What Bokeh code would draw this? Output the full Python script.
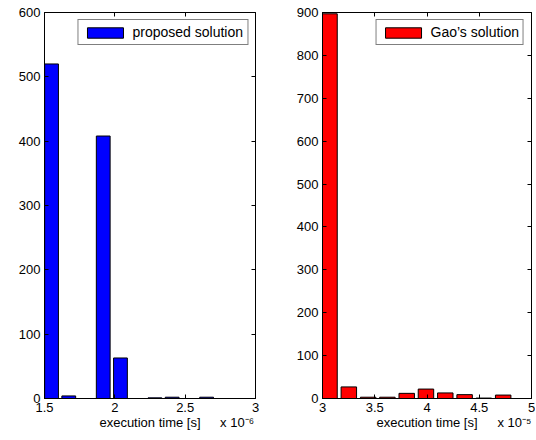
from bokeh.plotting import figure
from bokeh.layouts import row
from bokeh.models import (FixedTicker, LinearAxis, Range1d, Legend,
                          LegendItem, NumeralTickFormatter, CustomJSTickFormatter)
from bokeh.embed import file_html
from bokeh.resources import INLINE

FONT = "Liberation Sans"

# ---- data (x in units of 1e-6 s for proposed, 1e-5 s for Gao) ----
proposed_centers = [1.55, 1.6725, 1.795, 1.9175, 2.04, 2.1625, 2.285, 2.4075, 2.53, 2.6525]
proposed_counts = [520, 4, 0, 408, 63, 0, 1, 2, 0, 2]
proposed_bar_width = 0.098
proposed_xticks = [1.5, 2, 2.5, 3]
proposed_yticks = [0, 100, 200, 300, 400, 500, 600]
proposed_multiplier = "x 10\u207b\u2076"

gao_centers = [3.067, 3.252, 3.437, 3.621, 3.806, 3.990, 4.175, 4.360, 4.544, 4.729]
gao_counts = [897, 27, 3, 3, 12, 22, 13, 9, 1, 8]
gao_bar_width = 0.148
gao_xticks = [3, 3.5, 4, 4.5, 5]
gao_yticks = [0, 100, 200, 300, 400, 500, 600, 700, 800, 900]
gao_multiplier = "x 10\u207b\u2075"

xlabel = "execution time [s]"


def style_axis(ax, ticks):
    ax.ticker = FixedTicker(ticks=ticks)
    ax.formatter = NumeralTickFormatter(format="0.[0]")
    ax.major_tick_in = 4
    ax.major_tick_out = 0
    ax.minor_tick_line_color = None
    ax.axis_line_color = "black"
    ax.major_tick_line_color = "black"
    ax.major_label_text_font = FONT
    ax.major_label_text_font_size = "13px"
    ax.major_label_text_color = "black"
    ax.major_label_standoff = 4


def mirror_axis(ticks):
    ax = LinearAxis(ticker=FixedTicker(ticks=ticks),
                    formatter=CustomJSTickFormatter(code="return '';"))
    ax.major_tick_in = 4
    ax.major_tick_out = 0
    ax.minor_tick_line_color = None
    ax.axis_line_color = None
    ax.major_tick_line_color = "black"
    ax.major_label_text_font_size = "0px"
    ax.major_label_standoff = 0
    return ax


def label_axis(label_x, mult_x, mult_text):
    # a bare axis below the main one that carries the axis title and the
    # x-multiplier as its only two "tick labels"
    ax = LinearAxis(ticker=FixedTicker(ticks=[label_x, mult_x]),
                    formatter=CustomJSTickFormatter(code="return '';"),
                    major_label_overrides={label_x: xlabel, mult_x: mult_text})
    ax.major_tick_in = 0
    ax.major_tick_out = 0
    ax.major_tick_line_color = None
    ax.minor_tick_line_color = None
    ax.axis_line_color = None
    ax.major_label_standoff = 0
    ax.major_label_text_font = FONT
    ax.major_label_text_font_size = "13px"
    ax.major_label_text_color = "black"
    return ax


def make(centers, counts, bw, xr, yr, xticks, yticks, color, label,
         width, mbl, mbr, label_x, mult_x, mult_text):
    p = figure(width=width, height=438, x_range=Range1d(*xr), y_range=Range1d(*yr),
               output_backend="svg", toolbar_location=None,
               min_border_left=mbl, min_border_right=mbr,
               min_border_top=12, min_border_bottom=40)
    p.xgrid.visible = False
    p.ygrid.visible = False
    p.outline_line_color = "black"
    p.outline_line_width = 1
    p.background_fill_color = "white"
    p.border_fill_color = "white"

    r = p.vbar(x=centers, top=counts, width=bw, bottom=0,
               fill_color=color, line_color="black", line_width=1)

    style_axis(p.xaxis[0], xticks)
    style_axis(p.yaxis[0], yticks)

    p.add_layout(label_axis(label_x, mult_x, mult_text), "below")
    p.add_layout(mirror_axis(xticks), "above")
    p.add_layout(mirror_axis(yticks), "right")

    legend = Legend(items=[LegendItem(label=label, renderers=[r])],
                    location="top_right", margin=7, padding=4,
                    glyph_width=45, glyph_height=13, label_height=12,
                    label_standoff=5, spacing=0,
                    border_line_color="black", border_line_width=1,
                    background_fill_color="white", background_fill_alpha=1,
                    label_text_font=FONT, label_text_font_size="14px",
                    label_text_color="black")
    p.add_layout(legend)
    return p


p1 = make(proposed_centers, proposed_counts, proposed_bar_width, (1.5, 3), (0, 600),
          proposed_xticks, proposed_yticks, "#0000FF", "proposed solution",
          289, 44, 34, 2.25, 2.869, proposed_multiplier)
p2 = make(gao_centers, gao_counts, gao_bar_width, (3, 5), (0, 900),
          gao_xticks, gao_yticks, "#FF0000", "Gao\u2019s solution",
          246, 33, 4, 4.0, 4.837, gao_multiplier)

layout = row(p1, p2)
open("out.html", "w").write(file_html(layout, INLINE))
